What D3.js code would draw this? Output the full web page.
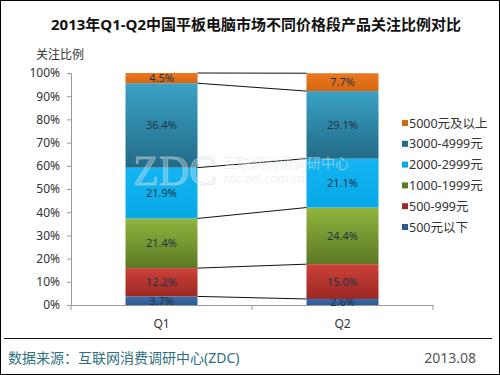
<!DOCTYPE html>
<html>
<head>
<meta charset="utf-8">
<script src="https://cdn.jsdelivr.net/npm/d3@7"></script>
<style>
  html, body { margin: 0; padding: 0; background: #fff; }
  svg { display: block; }
</style>
</head>
<body>
<script>
// quarters and price bands (bottom to top)
const quarters = ["Q1", "Q2"];
const bands = ["500元以下", "500-999元", "1000-1999元", "2000-2999元", "3000-4999元", "5000元及以上"];
const q1Values = [3.7, 12.2, 21.4, 21.9, 36.4, 4.5];
const q2Values = [2.6, 15.0, 24.4, 21.1, 29.1, 7.7];
const yTicks = [0, 10, 20, 30, 40, 50, 60, 70, 80, 90, 100];

// gradient top/bottom per band
const bandColors = [
    ["#3a6cab", "#2c5a94"],
    ["#cc423b", "#9c2723"],
    ["#91b53d", "#5c7824"],
    ["#14b4f2", "#06a9e6"],
    ["#3ba2c6", "#226b87"],
    ["#ea7a22", "#d8650f"]
];

const width = 500, height = 375;
const font = "'Noto Sans', 'Noto Sans CJK SC', sans-serif";

const rows = quarters.map((q, i) => {
    const vals = i === 0 ? q1Values : q2Values;
    const r = { quarter: q };
    bands.forEach((b, j) => r[b] = vals[j]);
    return r;
});
const series = d3.stack().keys(bands)(rows);

const svg = d3.select("body").append("svg")
    .attr("width", width)
    .attr("height", height)
    .style("font-family", font);

svg.append("rect")
    .attr("x", 0.5).attr("y", 0.5)
    .attr("width", width - 1).attr("height", height - 1)
    .attr("fill", "#fff").attr("stroke", "#000");

const defs = svg.append("defs");
bandColors.forEach((c, i) => {
    const g = defs.append("linearGradient")
        .attr("id", "grad" + i)
        .attr("x1", 0).attr("y1", 0).attr("x2", 0).attr("y2", 1);
    g.append("stop").attr("offset", "0%").attr("stop-color", c[0]);
    g.append("stop").attr("offset", "100%").attr("stop-color", c[1]);
});

svg.append("text")
    .attr("x", 256).attr("y", 30)
    .attr("text-anchor", "middle")
    .style("font-size", "15px")
    .style("font-weight", "bold")
    .attr("fill", "#111")
    .text("2013年Q1-Q2中国平板电脑市场不同价格段产品关注比例对比");

svg.append("text")
    .attr("x", 36).attr("y", 59)
    .style("font-size", "12px")
    .attr("fill", "#333")
    .text("关注比例");

const y = d3.scaleLinear().domain([0, 100]).range([305, 73]);
const x = d3.scaleBand().domain(quarters).range([71, 433]).paddingInner(0).paddingOuter(0);
const barW = 72;
const barX = q => x(q) + (x.bandwidth() - barW) / 2;

// y axis
const yAxis = svg.append("g")
    .attr("transform", "translate(71,0)")
    .call(d3.axisLeft(y).tickValues(yTicks).tickSize(4).tickPadding(7).tickFormat(d => d + "%"));
yAxis.select(".domain").attr("stroke", "#999");
yAxis.selectAll(".tick line").attr("stroke", "#999");
yAxis.selectAll("text").style("font-size", "12px").style("font-family", font).attr("fill", "#333");

// x axis
const xAxis = svg.append("g")
    .attr("transform", "translate(0,305)")
    .call(d3.axisBottom(x).tickSize(0).tickPadding(14));
xAxis.select(".domain").attr("stroke", "#999");
xAxis.selectAll("text").style("font-size", "12px").style("font-family", font).attr("fill", "#333");
svg.append("g").selectAll("line")
    .data([71, 252, 433])
    .join("line")
    .attr("x1", d => d).attr("x2", d => d)
    .attr("y1", 305).attr("y2", 310)
    .attr("stroke", "#999");

// bars
const layer = svg.append("g").selectAll("g")
    .data(series)
    .join("g")
    .attr("fill", (d, i) => `url(#grad${i})`);
layer.selectAll("rect")
    .data(d => d)
    .join("rect")
    .attr("x", d => barX(d.data.quarter))
    .attr("y", d => y(Math.min(d[1], 100)))
    .attr("width", barW)
    .attr("height", d => y(d[0]) - y(Math.min(d[1], 100)));

// connector lines between the stacks
svg.append("g").selectAll("line")
    .data(series)
    .join("line")
    .attr("x1", barX("Q1") + barW)
    .attr("x2", barX("Q2"))
    .attr("y1", d => y(Math.min(d[0][1], 100)))
    .attr("y2", d => y(Math.min(d[1][1], 100)))
    .attr("stroke", "#111")
    .attr("stroke-width", 1);

// watermark
const wm = svg.append("g").attr("pointer-events", "none");
wm.append("text")
    .attr("x", 133).attr("y", 185)
    .style("font-family", "'Liberation Serif', serif")
    .style("font-size", "42px")
    .attr("fill", "#fff").attr("fill-opacity", 0.3)
    .attr("stroke", "#c9d6dc").attr("stroke-opacity", 0.5)
    .text("ZDC");
wm.append("text")
    .attr("x", 223).attr("y", 168)
    .style("font-size", "14px")
    .attr("fill", "#dde6ea").attr("fill-opacity", 0.55)
    .text("互联网消费调研中心");
wm.append("text")
    .attr("x", 223).attr("y", 183)
    .style("font-size", "12px")
    .attr("fill", "#dde6ea").attr("fill-opacity", 0.55)
    .text("zdc.zol.com.cn");

// segment labels
layer.selectAll("text")
    .data(d => d)
    .join("text")
    .attr("x", d => barX(d.data.quarter) + barW / 2)
    .attr("y", d => (y(d[0]) + y(Math.min(d[1], 100))) / 2 + 4)
    .attr("text-anchor", "middle")
    .style("font-size", "11px")
    .attr("fill", "#1d3347")
    .text(d => (d[1] - d[0]).toFixed(1) + "%");

// legend (top entry first)
const legend = svg.append("g").selectAll("g")
    .data(bands.map((b, i) => ({ b, i })).reverse())
    .join("g")
    .attr("transform", (d, k) => `translate(402,${123 + k * 20.8})`);
legend.append("rect")
    .attr("x", 0).attr("y", -3)
    .attr("width", 6).attr("height", 6)
    .attr("fill", d => bandColors[d.i][1]);
legend.append("text")
    .attr("x", 7).attr("y", 4.5)
    .style("font-size", "12.5px")
    .attr("fill", "#333")
    .text(d => d.b);

// footer
svg.append("line")
    .attr("x1", 4).attr("x2", 492)
    .attr("y1", 338.5).attr("y2", 338.5)
    .attr("stroke", "#111");
svg.append("text")
    .attr("x", 8).attr("y", 363)
    .style("font-size", "14px")
    .attr("fill", "#2f6f80")
    .text("数据来源：互联网消费调研中心(ZDC)");
svg.append("text")
    .attr("x", 476).attr("y", 363)
    .attr("text-anchor", "end")
    .style("font-size", "14px")
    .attr("fill", "#555")
    .text("2013.08");
</script>
</body>
</html>
